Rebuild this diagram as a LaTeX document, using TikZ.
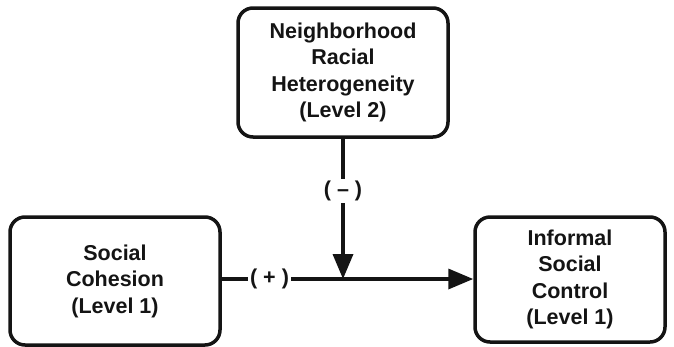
\documentclass[tikz,border=0pt]{standalone}
\usepackage{fontspec}
\setmainfont{Liberation Sans}
\usetikzlibrary{arrows.meta}
\begin{document}
\begin{tikzpicture}[x=1pt,y=-1pt,
  box/.style={draw=black!92, line width=3.5pt, rounded corners=15pt, align=center,
    font=\fontsize{21.5}{26.5}\selectfont\bfseries, text=black!92, inner sep=0pt},
  conn/.style={line width=3.5pt, draw=black!92},
  arr/.style={conn, -{Triangle[width=20pt,length=25pt]}},
  lab/.style={fill=white, inner sep=2pt, font=\fontsize{21.5}{26}\selectfont\bfseries, text=black!92}]
\useasboundingbox (0,0) rectangle (674,346);
\node[box, minimum width=210pt, minimum height=129pt] (top) at (343,72.5)
  {Neighborhood\\Racial\\Heterogeneity\\(Level 2)};
\node[box, minimum width=210pt, minimum height=128pt] (left) at (115,281)
  {Social\\Cohesion\\(Level 1)};
\node[box, minimum width=190pt, minimum height=125pt] (right) at (570,279.5)
  {Informal\\Social\\Control\\(Level 1)};
\coordinate (mid) at (343,279);
\draw[arr] (left.east |- mid) -- node[lab, pos=0.19] (plus) {( + )} (right.west |- mid);
\draw[arr] (top.south) -- node[lab, pos=0.37] (minus) {( – )} (mid);
\end{tikzpicture}
\end{document}
